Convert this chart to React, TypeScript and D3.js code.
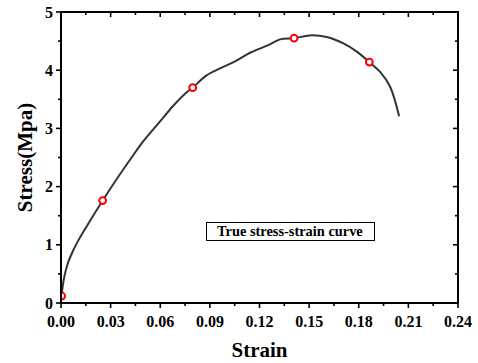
import React from "react";
import * as d3 from "d3";

// Stress–strain readings
const strain = [0.0004, 0.001, 0.002, 0.004, 0.007, 0.01, 0.0141, 0.0252, 0.0337, 0.0427, 0.0498, 0.0599, 0.0679, 0.076, 0.0796, 0.088, 0.0961, 0.1052, 0.1143, 0.1253, 0.1324, 0.1409, 0.1516, 0.1606, 0.1707, 0.1788, 0.1864, 0.1929, 0.1989, 0.2044];
const stress = [0.12, 0.28, 0.45, 0.67, 0.88, 1.05, 1.25, 1.76, 2.13, 2.5, 2.78, 3.12, 3.39, 3.62, 3.7, 3.91, 4.03, 4.15, 4.3, 4.43, 4.53, 4.55, 4.6, 4.57, 4.46, 4.32, 4.14, 3.97, 3.72, 3.21];

// Highlighted sample points
const markStrain = [0.0004, 0.0252, 0.0796, 0.1409, 0.1864];
const markStress = [0.12, 1.76, 3.7, 4.55, 4.14];

const xTicks = [0, 0.03, 0.06, 0.09, 0.12, 0.15, 0.18, 0.21, 0.24];
const yTicks = [0, 1, 2, 3, 4, 5];
const legendLabel = "True stress-strain curve";

const W = 478;
const H = 363;
const M = { left: 61, top: 12, right: 458, bottom: 303 };
const FONT = "'Liberation Serif', 'Times New Roman', serif";

export default function App() {
  const x = d3.scaleLinear().domain([0, 0.24]).range([M.left, M.right]);
  const y = d3.scaleLinear().domain([0, 5]).range([M.bottom, M.top]);

  const pts: [number, number][] = strain.map((s, i) => [s, stress[i]]);
  const line = d3
    .line<[number, number]>()
    .x((d) => x(d[0]))
    .y((d) => y(d[1]))
    .curve(d3.curveCatmullRom.alpha(0.5));

  const xMinor = d3.range(0, 0.2401, 0.015);
  const yMinor = d3.range(0, 5.001, 0.5);
  const isMajorX = (v: number) => Math.abs(v / 0.03 - Math.round(v / 0.03)) < 1e-6;
  const isMajorY = (v: number) => Math.abs(v - Math.round(v)) < 1e-6;

  return (
    <svg
      width={W}
      height={H}
      style={{ position: "absolute", left: 0, top: 0, background: "#fff" }}
      fontFamily={FONT}
    >
      <defs>
        <clipPath id="plot-clip">
          <rect x={M.left} y={M.top} width={M.right - M.left} height={M.bottom - M.top} />
        </clipPath>
      </defs>

      <g clipPath="url(#plot-clip)">
        <path d={line(pts) ?? ""} fill="none" stroke="#333" strokeWidth={2} />
        {markStrain.map((s, i) => (
          <circle
            key={i}
            cx={x(s)}
            cy={y(markStress[i])}
            r={3.4}
            fill="#fff"
            stroke="#f00"
            strokeWidth={2}
          />
        ))}
      </g>

      {/* bottom ticks (outward) and top ticks (inward) */}
      {xMinor.map((v, i) => {
        const len = isMajorX(v) ? 5 : 3;
        return (
          <g key={"xt" + i} stroke="#000" strokeWidth={1.6}>
            <line x1={x(v)} x2={x(v)} y1={M.bottom} y2={M.bottom + len} />
            <line x1={x(v)} x2={x(v)} y1={M.top} y2={M.top + len} />
          </g>
        );
      })}
      {/* left ticks (outward) and right ticks (inward) */}
      {yMinor.map((v, i) => {
        const len = isMajorY(v) ? 5 : 3;
        return (
          <g key={"yt" + i} stroke="#000" strokeWidth={1.6}>
            <line x1={M.left - len} x2={M.left} y1={y(v)} y2={y(v)} />
            <line x1={M.right - len} x2={M.right} y1={y(v)} y2={y(v)} />
          </g>
        );
      })}

      <rect
        x={M.left}
        y={M.top}
        width={M.right - M.left}
        height={M.bottom - M.top}
        fill="none"
        stroke="#000"
        strokeWidth={2}
      />

      {xTicks.map((v) => (
        <text
          key={"xl" + v}
          x={x(v)}
          y={327}
          textAnchor="middle"
          fontSize={16}
          fontWeight="bold"
        >
          {v.toFixed(2)}
        </text>
      ))}
      {yTicks.map((v) => (
        <text
          key={"yl" + v}
          x={53}
          y={y(v) + 5.5}
          textAnchor="end"
          fontSize={16}
          fontWeight="bold"
        >
          {v}
        </text>
      ))}

      <text x={(M.left + M.right) / 2} y={357} textAnchor="middle" fontSize={21} fontWeight="bold">
        Strain
      </text>
      <text
        transform={`translate(32, ${(M.top + M.bottom) / 2}) rotate(-90)`}
        textAnchor="middle"
        fontSize={21}
        fontWeight="bold"
      >
        Stress(Mpa)
      </text>

      <rect x={206.5} y={222.5} width={168} height={18} fill="#fff" stroke="#000" strokeWidth={1} />
      <text x={217} y={236} fontSize={14.4} fontWeight="bold">
        {legendLabel}
      </text>
    </svg>
  );
}
